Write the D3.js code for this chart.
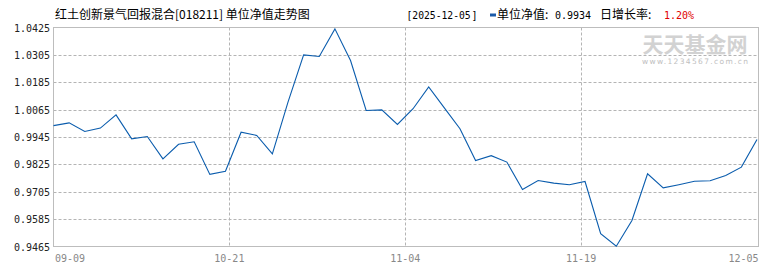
<!DOCTYPE html>
<html><head><meta charset="utf-8">
<script src="https://cdn.jsdelivr.net/npm/d3@7/dist/d3.min.js"></script>
<style>
html,body{margin:0;padding:0;background:#fff;}
svg{display:block;}
</style></head>
<body>
<svg id="c" width="770" height="270"></svg>
<script>
const titleText = "红土创新景气回报混合[018211] 单位净值走势图";
const dateText = "[2025-12-05";
const dateClose = "]";
const navLabel = "单位净值:";
const navValue = "0.9934";
const rateLabel = "日增长率:";
const rateValue = "1.20%";
const yTicks = [0.9465, 0.9585, 0.9705, 0.9825, 0.9945, 1.0065, 1.0185, 1.0305, 1.0425];
const xTickPos = [0, 11.25, 22.5, 33.75, 45];
const xTickLabels = ["09-09", "10-21", "11-04", "11-19", "12-05"];
const navValues = [
  0.9995, 1.0007, 0.9969, 0.9984, 1.0042, 0.9937, 0.9947, 0.9849, 0.9913, 0.9924,
  0.9781, 0.9795, 0.9966, 0.9952, 0.9871, 1.0098, 1.0305, 1.0298, 1.0419, 1.0280,
  1.0061, 1.0064, 1.0000, 1.0069, 1.0164, 1.0073, 0.9981, 0.9842, 0.9863, 0.9835,
  0.9715, 0.9754, 0.9743, 0.9736, 0.9750, 0.9521, 0.9466, 0.9579, 0.9784, 0.9722,
  0.9736, 0.9751, 0.9753, 0.9776, 0.9813, 0.9934
];

const svg = d3.select("#c");
const L = 53.5, R = 758.5, T = 27.5, B = 246.5;
const x = d3.scaleLinear().domain([0, navValues.length - 1]).range([L, R - 1.5]);
const y = d3.scaleLinear().domain([yTicks[0], yTicks[yTicks.length - 1]]).range([B, T]);
const mono = "'DejaVu Sans Mono', 'Liberation Mono', monospace";
const cjk = "'Noto Sans CJK SC', sans-serif";

// horizontal grid
svg.append("g").selectAll("line").data(yTicks.slice(1, -1)).join("line")
  .attr("x1", L).attr("x2", R)
  .attr("y1", d => Math.round(y(d)) + 0.5).attr("y2", d => Math.round(y(d)) + 0.5)
  .attr("stroke", "#b4b4b4").attr("stroke-dasharray", "3,2");
// vertical grid
svg.append("g").selectAll("line").data(xTickPos.slice(1, -1)).join("line")
  .attr("x1", d => Math.round(x(d)) + 0.5).attr("x2", d => Math.round(x(d)) + 0.5)
  .attr("y1", T).attr("y2", B)
  .attr("stroke", "#b4b4b4").attr("stroke-dasharray", "3,2");

// watermark
svg.append("text").attr("x", 695).attr("y", 52).attr("text-anchor", "middle")
  .attr("font-family", cjk).attr("font-size", 21).attr("font-weight", "bold")
  .attr("fill", "#d2d2d2").text("天天基金网");
svg.append("text").attr("x", 642).attr("y", 64)
  .attr("font-family", "'DejaVu Sans', sans-serif").attr("font-size", 7.5)
  .attr("textLength", 106).attr("lengthAdjust", "spacing")
  .attr("fill", "#c0c0c0").text("www.1234567.com.cn");

// frame
svg.append("rect").attr("x", L).attr("y", T).attr("width", R - L).attr("height", B - T)
  .attr("fill", "none").attr("stroke", "#bdbdbd");

// line
svg.append("path").datum(navValues)
  .attr("fill", "none").attr("stroke", "#0a5cad").attr("stroke-width", 1.1)
  .attr("d", d3.line().x((d, i) => x(i)).y(d => y(d)));

// y labels
svg.append("g").selectAll("text").data(yTicks).join("text")
  .attr("x", 50).attr("y", d => y(d) + 4).attr("text-anchor", "end")
  .attr("font-family", mono).attr("font-size", 10).attr("fill", "#222")
  .text(d => d.toFixed(4));

// x labels
svg.append("g").selectAll("text").data(xTickPos).join("text")
  .attr("x", (d, i) => i === 0 ? L + 1.5 : (i === xTickPos.length - 1 ? R : x(d)))
  .attr("y", 262)
  .attr("text-anchor", (d, i) => i === 0 ? "start" : (i === xTickPos.length - 1 ? "end" : "middle"))
  .attr("font-family", mono).attr("font-size", 10).attr("fill", "#888")
  .text((d, i) => xTickLabels[i]);

// title
svg.append("text").attr("x", 55).attr("y", 19)
  .attr("font-family", cjk).attr("font-size", 12).attr("fill", "#000")
  .text(titleText);

// header right
svg.append("text").attr("x", 406.5).attr("y", 19)
  .attr("font-family", mono).attr("font-size", 9.7).attr("fill", "#000").text(dateText);
svg.append("text").attr("x", 471.5).attr("y", 19)
  .attr("font-family", mono).attr("font-size", 10).attr("fill", "#000").text(dateClose);
svg.append("rect").attr("x", 490).attr("y", 13.5).attr("width", 6).attr("height", 3).attr("fill", "#1a5aa8");
svg.append("text").attr("x", 497).attr("y", 19)
  .attr("font-family", cjk).attr("font-size", 12).attr("fill", "#000").text(navLabel);
svg.append("text").attr("x", 555).attr("y", 19)
  .attr("font-family", mono).attr("font-size", 10).attr("fill", "#000").text(navValue);
svg.append("text").attr("x", 600).attr("y", 19)
  .attr("font-family", cjk).attr("font-size", 12).attr("fill", "#000").text(rateLabel);
svg.append("text").attr("x", 664).attr("y", 19)
  .attr("font-family", mono).attr("font-size", 10).attr("fill", "#e00000").text(rateValue);
</script>
</body></html>
